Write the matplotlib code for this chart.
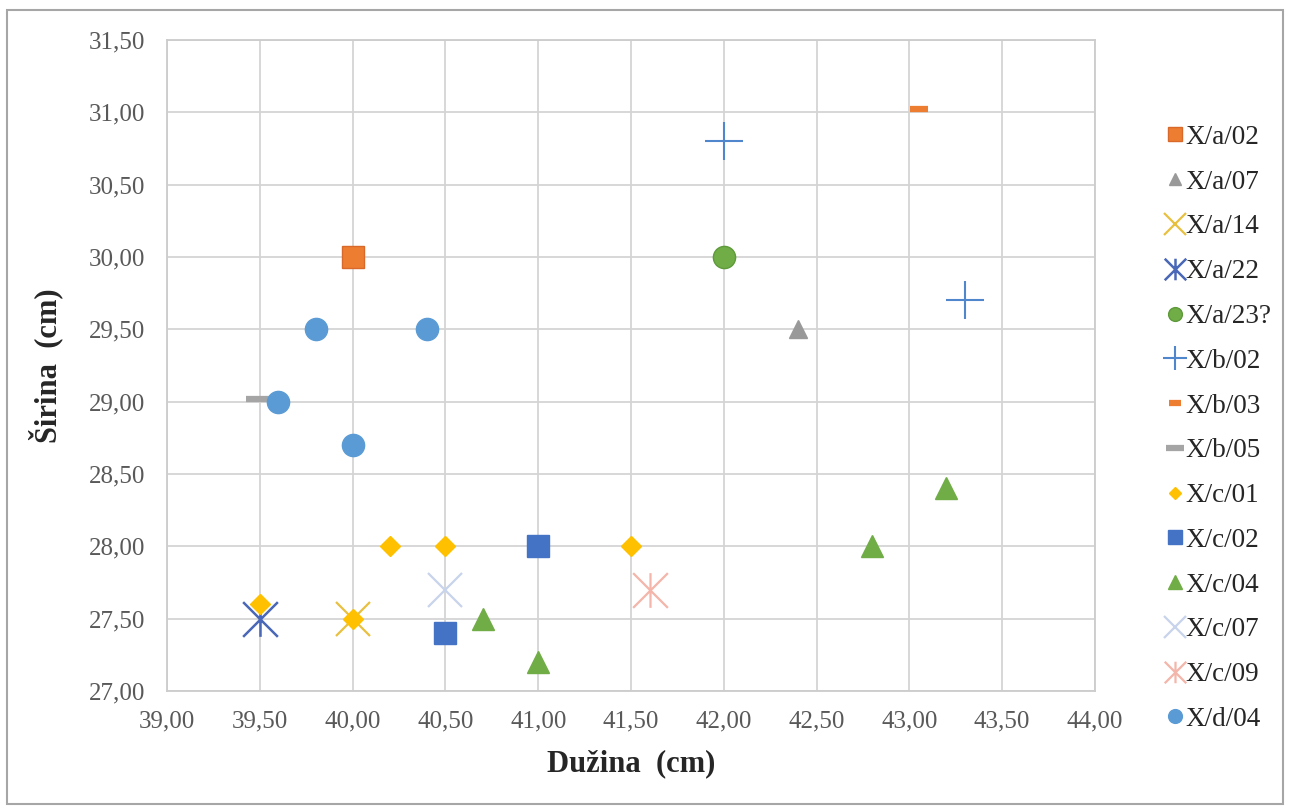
import matplotlib.pyplot as plt
from matplotlib.path import Path
from matplotlib.patches import Rectangle
from matplotlib.ticker import FuncFormatter

plt.rcParams['font.family'] = ['Liberation Serif', 'DejaVu Serif']

# podaci po uzorku (dužina, širina)
xa02_x = [40.0]
xa02_y = [30.0]
xa07_x = [42.4]
xa07_y = [29.5]
xa14_x = [40.0]
xa14_y = [27.5]
xa22_x = [39.5]
xa22_y = [27.5]
xa23_x = [42.0]
xa23_y = [30.0]
xb02_x = [42.0, 43.3]
xb02_y = [30.8, 29.7]
xb03_x = [43.05]
xb03_y = [31.02]
xb05_x = [39.5]
xb05_y = [29.02]
xc01_x = [39.5, 40.0, 40.2, 40.5, 41.5]
xc01_y = [27.6, 27.5, 28.0, 28.0, 28.0]
xc02_x = [41.0, 40.5]
xc02_y = [28.0, 27.4]
xc04_x = [40.7, 41.0, 42.8, 43.2]
xc04_y = [27.5, 27.2, 28.0, 28.4]
xc07_x = [40.5]
xc07_y = [27.7]
xc09_x = [41.6]
xc09_y = [27.7]
xd04_x = [39.8, 40.4, 39.6, 40.0]
xd04_y = [29.5, 29.5, 29.0, 28.7]

x_ticks = [39.0, 39.5, 40.0, 40.5, 41.0, 41.5, 42.0, 42.5, 43.0, 43.5, 44.0]
y_ticks = [27.0, 27.5, 28.0, 28.5, 29.0, 29.5, 30.0, 30.5, 31.0, 31.5]

# zvjezdica kao u Excelu: x + okomita crta
star = Path([(-1, -1), (1, 1), (-1, 1), (1, -1), (0, -1), (0, 1)],
            [Path.MOVETO, Path.LINETO, Path.MOVETO, Path.LINETO, Path.MOVETO, Path.LINETO])

fig = plt.figure(figsize=(12.9, 8.09), dpi=100)
ax = fig.add_axes([0.1295, 0.1459, 0.8488 - 0.1295, 0.9506 - 0.1459])

ax.plot(xa02_x, xa02_y, 's', color='#ED7D31', ms=16, mec='#D9692A', label='X/a/02')
ax.plot(xa07_x, xa07_y, '^', color='#999999', ms=13, label='X/a/07')
ax.plot(xa14_x, xa14_y, 'x', color='#E8C040', ms=25, mew=1.6, label='X/a/14')
ax.plot(xa22_x, xa22_y, marker=star, ls='none', color='#4A68B8', ms=25, mew=1.8, mfc='none', label='X/a/22')
ax.plot(xa23_x, xa23_y, 'o', color='#70AD47', ms=16, mec='#5E9A3A', label='X/a/23?')
ax.plot(xb02_x, xb02_y, '+', color='#4F86CC', ms=27, mew=1.5, label='X/b/02')
ax.plot(xb03_x, xb03_y, '_', color='#ED7D31', ms=13, mew=4.5, label='X/b/03')
ax.plot(xb05_x, xb05_y, '_', color='#A5A5A5', ms=20, mew=4.5, label='X/b/05')
ax.plot(xc01_x, xc01_y, 'D', color='#FFC000', ms=10.5, label='X/c/01')
ax.plot(xc02_x, xc02_y, 's', color='#4472C4', ms=16, label='X/c/02')
ax.plot(xc04_x, xc04_y, '^', color='#70AD47', ms=16, label='X/c/04')
ax.plot(xc07_x, xc07_y, 'x', color='#C8D4EC', ms=25, mew=1.6, label='X/c/07')
ax.plot(xc09_x, xc09_y, marker=star, ls='none', color='#F4B5AA', ms=25, mew=1.6, mfc='none', label='X/c/09')
ax.plot(xd04_x, xd04_y, 'o', color='#5B9BD5', ms=16, label='X/d/04')

ax.set_xlim(39, 44)
ax.set_ylim(27, 31.5)
ax.set_xticks(x_ticks)
ax.set_yticks(y_ticks)
fmt = FuncFormatter(lambda v, p: f'{v:.2f}'.replace('.', ','))
ax.xaxis.set_major_formatter(fmt)
ax.yaxis.set_major_formatter(fmt)
ax.tick_params(length=0, labelsize=18, labelcolor='#595959')
ax.tick_params(axis='x', pad=14)
ax.tick_params(axis='y', pad=16)
ax.grid(True, color='#D4D4D4', lw=1.3)
ax.set_axisbelow(True)
for s in ax.spines.values():
    s.set_color('#CCCCCC')
    s.set_linewidth(1.3)

ax.set_xlabel('Dužina  (cm)', fontsize=22, fontweight='bold', color='#262626', labelpad=12)
ax.set_ylabel('Širina  (cm)', fontsize=22, fontweight='bold', color='#262626', labelpad=18)

leg = fig.legend(loc='upper left', bbox_to_anchor=(0.895, 0.859), frameon=False,
                 fontsize=19.5, markerscale=0.62, handlelength=0.7, handletextpad=0.05,
                 labelspacing=0.73, borderaxespad=0)
for t in leg.get_texts():
    t.set_color('#262626')

fig.patches.append(Rectangle((7 / 1290, 1 - 804 / 809), 1276 / 1290, 794 / 809,
                             transform=fig.transFigure, fill=False, ec='#A6A6A6', lw=1.5))

fig.savefig('out.png', dpi=100)
